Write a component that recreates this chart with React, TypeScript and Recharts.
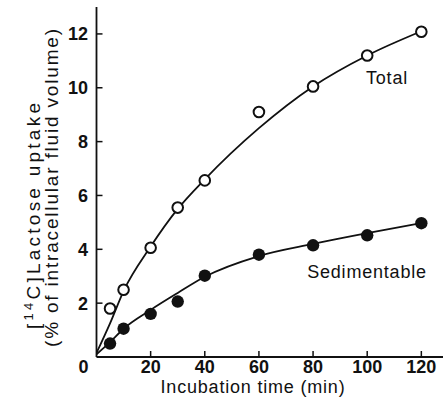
import React from 'react'
import { ComposedChart, Line, Scatter, XAxis, YAxis } from 'recharts'

// measured points, time in min
const TIMES = [5, 10, 20, 30, 40, 60, 80, 100, 120]
const TOTAL = [1.8, 2.5, 4.06, 5.55, 6.56, 9.1, 10.05, 11.2, 12.08]
const SEDIMENTABLE = [0.5, 1.05, 1.6, 2.06, 3.02, 3.8, 4.15, 4.52, 4.97]

// fitted curves
const FIT_TIMES = [0, 5, 10, 20, 30, 40, 60, 80, 100, 120]
const TOTAL_FIT = [0.15, 1.25, 2.45, 4.1, 5.5, 6.6, 8.5, 10.05, 11.2, 12.1]
const SEDIMENTABLE_FIT = [0.1, 0.55, 1.05, 1.75, 2.38, 2.98, 3.75, 4.2, 4.6, 4.97]

const X_TICKS = [0, 20, 40, 60, 80, 100, 120]
const Y_TICKS = [2, 4, 6, 8, 10, 12]

const FONT = '"Liberation Sans", Arial, sans-serif'
const INK = '#111'

const toPoints = (xs: number[], ys: number[]) => xs.map((t, i) => ({ t, v: ys[i] }))

const totalPts = toPoints(TIMES, TOTAL)
const sedPts = toPoints(TIMES, SEDIMENTABLE)
const totalFit = toPoints(FIT_TIMES, TOTAL_FIT)
const sedFit = toPoints(FIT_TIMES, SEDIMENTABLE_FIT)

const tickText = { fontFamily: FONT, fontSize: 18, fontWeight: 700, fill: INK }

function BottomTick(props: any) {
  const { x, y, payload } = props
  const v = payload.value
  return (
    <g>
      {v !== 0 ? <line x1={x} x2={x} y1={y} y2={y - 6} stroke={INK} strokeWidth={1.5} /> : null}
      <text x={v === 0 ? x - 13 : x} y={y + 15.5} textAnchor="middle" {...tickText}>
        {v}
      </text>
    </g>
  )
}

function TopTick(props: any) {
  const { x, y } = props
  return <line x1={x} x2={x} y1={y} y2={y + 6} stroke={INK} strokeWidth={1.5} />
}

function LeftTick(props: any) {
  const { x, y, payload } = props
  return (
    <g>
      <line x1={x} x2={x + 6} y1={y} y2={y} stroke={INK} strokeWidth={1.5} />
      <text x={x - 8.5} y={y + 6.5} textAnchor="end" {...tickText}>
        {payload.value}
      </text>
    </g>
  )
}

function RightTick(props: any) {
  const { x, y } = props
  return <line x1={x} x2={x - 6} y1={y} y2={y} stroke={INK} strokeWidth={1.5} />
}

const OpenDot = (props: any) => (
  <circle cx={props.cx} cy={props.cy} r={5.3} fill="#fff" stroke={INK} strokeWidth={2} />
)
const FilledDot = (props: any) => <circle cx={props.cx} cy={props.cy} r={6.2} fill={INK} />

const axisLine = { stroke: INK, strokeWidth: 1.8 }
const labelText = { fontFamily: FONT, fontSize: 18, fill: INK, letterSpacing: 0.8 }
const yLabelText = { fontFamily: FONT, fontSize: 19, fill: INK }

export default function App() {
  return (
    <div style={{ position: 'absolute', left: 0, top: 0, width: 443, height: 410, background: '#fff' }}>
      <ComposedChart width={443} height={410} margin={{ top: 7, right: 0, bottom: 0, left: 0 }}>
        <XAxis
          xAxisId="bottom"
          type="number"
          dataKey="t"
          domain={[0, 128]}
          ticks={X_TICKS}
          height={53}
          tickSize={0}
          tickMargin={0}
          tickLine={false}
          tick={<BottomTick />}
          axisLine={axisLine}
          allowDataOverflow
        />
        <XAxis
          xAxisId="top"
          orientation="top"
          type="number"
          dataKey="t"
          domain={[0, 128]}
          ticks={X_TICKS.slice(1)}
          height={0}
          tickSize={0}
          tickMargin={0}
          tickLine={false}
          tick={<TopTick />}
          axisLine={axisLine}
          allowDataOverflow
        />
        <YAxis
          yAxisId="left"
          type="number"
          dataKey="v"
          domain={[0, 13]}
          ticks={Y_TICKS}
          width={96.5}
          tickSize={0}
          tickMargin={0}
          tickLine={false}
          tick={<LeftTick />}
          axisLine={axisLine}
          allowDataOverflow
        />
        <YAxis
          yAxisId="right"
          orientation="right"
          type="number"
          dataKey="v"
          domain={[0, 13]}
          ticks={Y_TICKS}
          width={0}
          tickSize={0}
          tickMargin={0}
          tickLine={false}
          tick={<RightTick />}
          axisLine={false}
          allowDataOverflow
        />
        <Line
          xAxisId="bottom"
          yAxisId="left"
          data={totalFit}
          dataKey="v"
          type="monotone"
          stroke={INK}
          strokeWidth={1.8}
          dot={false}
          activeDot={false}
          isAnimationActive={false}
        />
        <Line
          xAxisId="bottom"
          yAxisId="left"
          data={sedFit}
          dataKey="v"
          type="monotone"
          stroke={INK}
          strokeWidth={1.8}
          dot={false}
          activeDot={false}
          isAnimationActive={false}
        />
        <Scatter
          xAxisId="bottom"
          yAxisId="left"
          data={sedPts}
          dataKey="v"
          shape={<FilledDot />}
          isAnimationActive={false}
        />
        <Scatter
          xAxisId="bottom"
          yAxisId="left"
          data={totalPts}
          dataKey="v"
          shape={<OpenDot />}
          isAnimationActive={false}
        />
      </ComposedChart>
      <svg
        width={443}
        height={410}
        style={{ position: 'absolute', left: 0, top: 0, pointerEvents: 'none' }}
      >
        <text x={253} y={393} textAnchor="middle" {...labelText}>
          Incubation time (min)
        </text>
        <text x={387} y={84} textAnchor="middle" {...labelText}>
          Total
        </text>
        <text x={367} y={278} textAnchor="middle" {...labelText}>
          Sedimentable
        </text>
        <text
          transform="translate(40,216) rotate(-90)"
          textAnchor="middle"
          textLength={226}
          lengthAdjust="spacing"
          {...yLabelText}
        >
          [<tspan fontSize={13} dy={-7}>14</tspan>
          <tspan dy={7}>C]Lactose uptake</tspan>
        </text>
        <text
          transform="translate(58,188) rotate(-90)"
          textAnchor="middle"
          textLength={318}
          lengthAdjust="spacing"
          {...yLabelText}
        >
          (% of intracellular fluid volume)
        </text>
      </svg>
    </div>
  )
}
